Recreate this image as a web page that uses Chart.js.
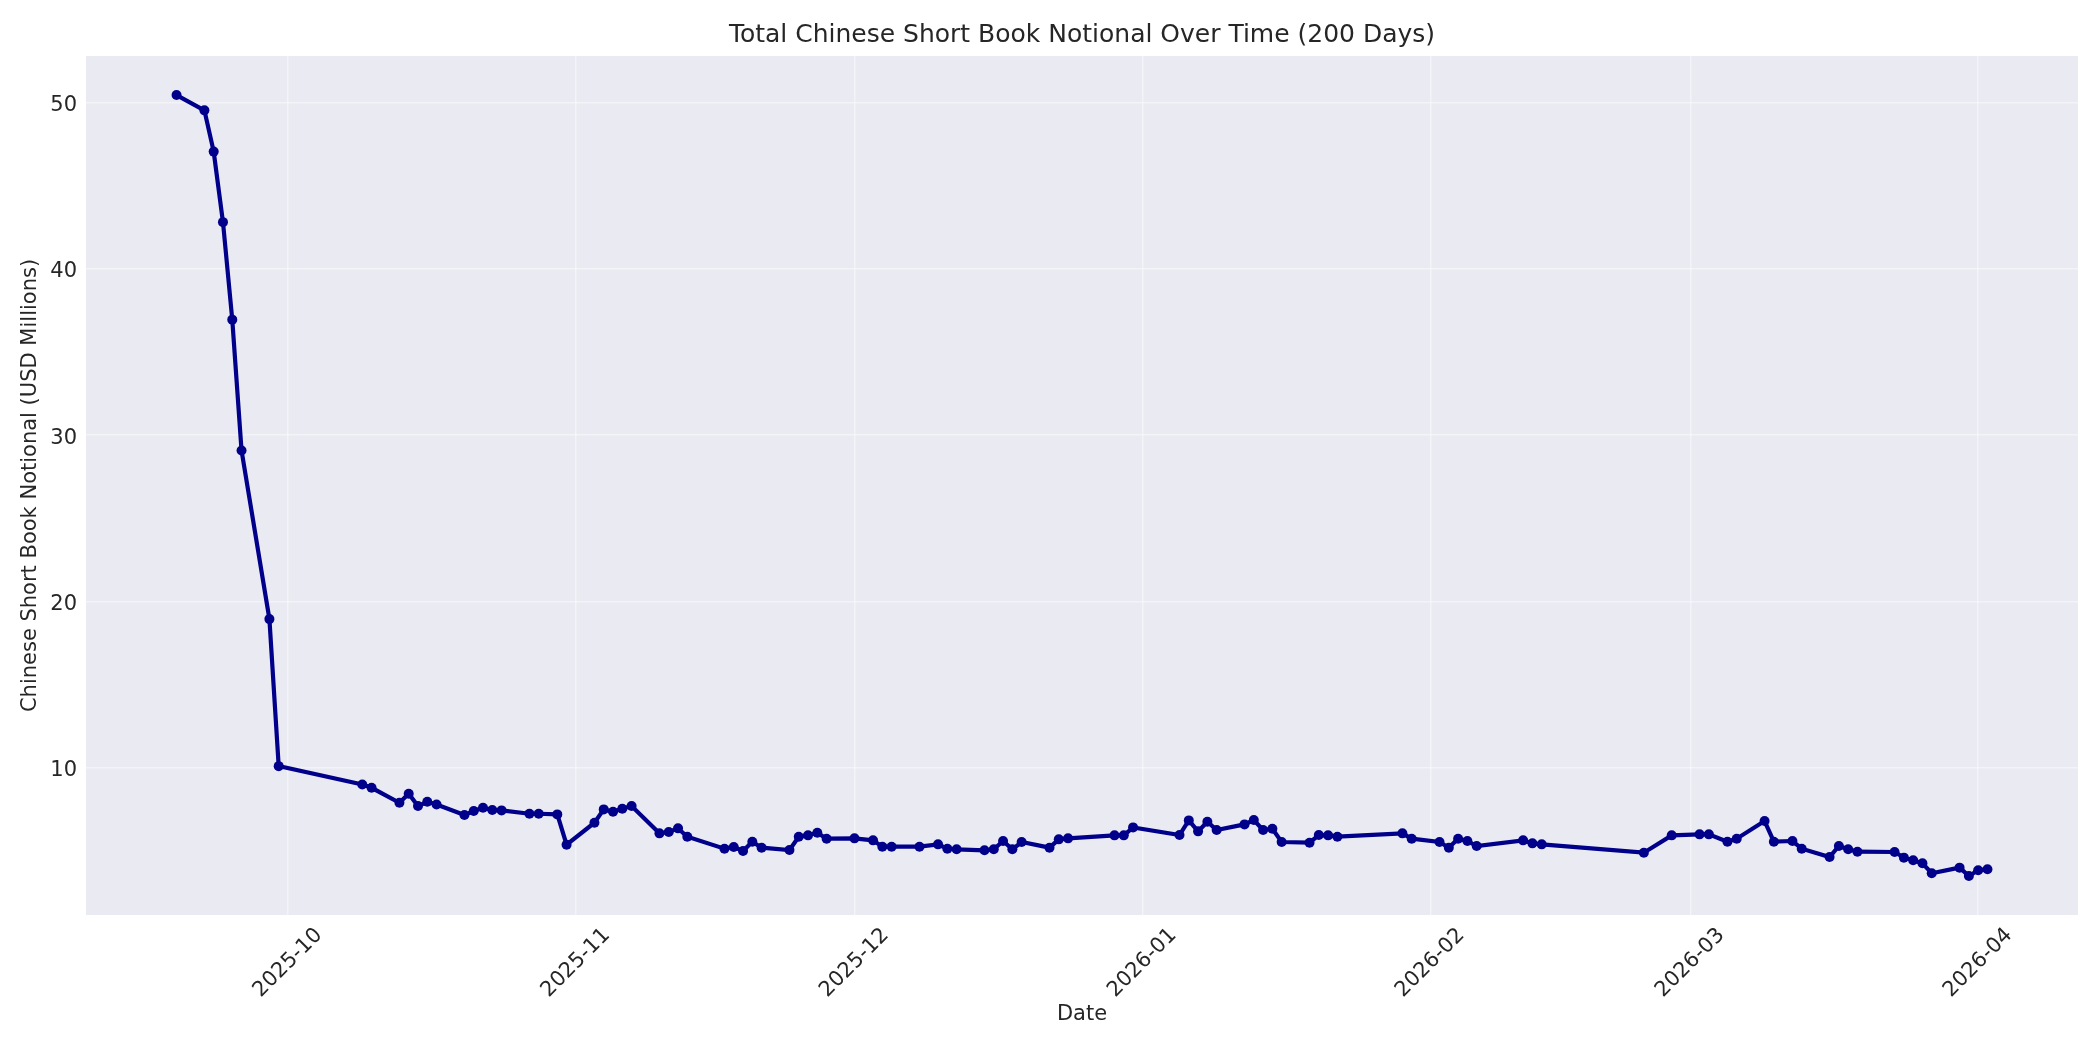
<!DOCTYPE html>
<html>
<head>
<meta charset="utf-8">
<script src="https://cdn.jsdelivr.net/npm/chart.js@4.4.1/dist/chart.umd.min.js"></script>
<style>
  html, body { margin: 0; padding: 0; background: #ffffff; }
  #wrap { width: 2100px; height: 1050px; }
</style>
</head>
<body>
<div id="wrap"><canvas id="c" width="2100" height="1050"></canvas></div>
<script>
const dates = [
  '2025-09-19','2025-09-22','2025-09-23','2025-09-24','2025-09-25','2025-09-26','2025-09-29','2025-09-30',
  '2025-10-09','2025-10-10','2025-10-13','2025-10-14','2025-10-15','2025-10-16','2025-10-17',
  '2025-10-20','2025-10-21','2025-10-22','2025-10-23','2025-10-24','2025-10-27','2025-10-28','2025-10-30','2025-10-31',
  '2025-11-03','2025-11-04','2025-11-05','2025-11-06','2025-11-07','2025-11-10','2025-11-11','2025-11-12','2025-11-13',
  '2025-11-17','2025-11-18','2025-11-19','2025-11-20','2025-11-21','2025-11-24','2025-11-25','2025-11-26','2025-11-27','2025-11-28',
  '2025-12-01','2025-12-03','2025-12-04','2025-12-05','2025-12-08','2025-12-10','2025-12-11','2025-12-12',
  '2025-12-15','2025-12-16','2025-12-17','2025-12-18','2025-12-19','2025-12-22','2025-12-23','2025-12-24',
  '2025-12-29','2025-12-30','2025-12-31',
  '2026-01-05','2026-01-06','2026-01-07','2026-01-08','2026-01-09','2026-01-12','2026-01-13','2026-01-14','2026-01-15','2026-01-16',
  '2026-01-19','2026-01-20','2026-01-21','2026-01-22','2026-01-29','2026-01-30',
  '2026-02-02','2026-02-03','2026-02-04','2026-02-05','2026-02-06','2026-02-11','2026-02-12','2026-02-13',
  '2026-02-24','2026-02-27',
  '2026-03-02','2026-03-03','2026-03-05','2026-03-06','2026-03-09','2026-03-10','2026-03-12','2026-03-13',
  '2026-03-16','2026-03-17','2026-03-18','2026-03-19','2026-03-23','2026-03-24','2026-03-25','2026-03-26','2026-03-27',
  '2026-03-30','2026-03-31','2026-04-01','2026-04-02'
];
const notional = [
  50.44, 49.52, 47.04, 42.8, 36.94, 29.07, 18.94, 10.1,
  9.0, 8.8, 7.9, 8.44, 7.7, 7.96, 7.8,
  7.16, 7.4, 7.6, 7.46, 7.44, 7.24, 7.24, 7.2, 5.38,
  6.7, 7.5, 7.36, 7.54, 7.7, 6.06, 6.14, 6.36, 5.86,
  5.14, 5.24, 5.0, 5.56, 5.2, 5.06, 5.86, 5.94, 6.1, 5.74,
  5.76, 5.64, 5.26, 5.26, 5.26, 5.4, 5.14, 5.1,
  5.04, 5.1, 5.6, 5.1, 5.54, 5.2, 5.7, 5.76,
  5.94, 5.94, 6.42,
  5.96, 6.84, 6.18, 6.76, 6.26, 6.6, 6.86, 6.26, 6.34, 5.54,
  5.5, 5.96, 5.94, 5.86, 6.06, 5.74,
  5.54, 5.2, 5.74, 5.6, 5.3, 5.64, 5.46, 5.4,
  4.9, 5.94,
  6.0, 6.0, 5.56, 5.74, 6.8, 5.56, 5.6, 5.14,
  4.64, 5.3, 5.1, 4.96, 4.94, 4.6, 4.44, 4.26, 3.66,
  4.0, 3.5, 3.84, 3.9
];
const xTickDates = ['2025-10-01','2025-11-01','2025-12-01','2026-01-01','2026-02-01','2026-03-01','2026-04-01'];
const xTickLabels = ['2025-10','2025-11','2025-12','2026-01','2026-02','2026-03','2026-04'];
const yTicks = [10, 20, 30, 40, 50];
const chartTitle = 'Total Chinese Short Book Notional Over Time (200 Days)';

const toDay = s => { const p = s.split('-').map(Number); return Date.UTC(p[0], p[1]-1, p[2]) / 86400000; };
const points = dates.map((d, i) => ({ x: toDay(d), y: notional[i] }));
const xs = points.map(p => p.x), ys = points.map(p => p.y);
const xMin0 = Math.min(...xs), xMax0 = Math.max(...xs);
const yMin0 = Math.min(...ys), yMax0 = Math.max(...ys);
const xPad = (xMax0 - xMin0) * 0.05, yPad = (yMax0 - yMin0) * 0.05;
const xTickVals = xTickDates.map(toDay);

const TEXT = '#262626';
const FONT = 'DejaVu Sans';

const bgPlugin = {
  id: 'bg',
  beforeDraw(chart) {
    const {ctx, chartArea: a} = chart;
    ctx.save();
    ctx.fillStyle = '#ffffff';
    ctx.fillRect(0, 0, chart.width, chart.height);
    ctx.fillStyle = '#EAEAF2';
    ctx.fillRect(a.left, a.top, a.right - a.left, a.bottom - a.top);
    ctx.restore();
  },
  afterDraw(chart) {
    const {ctx, chartArea: a} = chart;
    ctx.save();
    ctx.fillStyle = TEXT;
    ctx.font = '25px "' + FONT + '"';
    ctx.textAlign = 'center';
    ctx.textBaseline = 'middle';
    ctx.fillText(chartTitle, (a.left + a.right) / 2, 35);
    ctx.restore();
  }
};

new Chart(document.getElementById('c'), {
  type: 'line',
  data: {
    datasets: [{
      data: points,
      borderColor: '#00008B',
      backgroundColor: '#00008B',
      borderWidth: 4.2,
      pointRadius: 5,
      pointBorderWidth: 0,
      pointBackgroundColor: '#00008B',
      tension: 0,
      fill: false
    }]
  },
  plugins: [bgPlugin],
  options: {
    responsive: false,
    devicePixelRatio: 1,
    animation: false,
    layout: { padding: { left: 0, right: 22, top: 56, bottom: 0 } },
    plugins: {
      legend: { display: false },
      tooltip: { enabled: false },
      title: { display: false }
    },
    scales: {
      x: {
        type: 'linear',
        min: xMin0 - xPad,
        max: xMax0 + xPad,
        afterFit(scale) { scale.height = 135; },
        afterBuildTicks(scale) { scale.ticks = xTickVals.map(v => ({ value: v })); },
        border: { display: false },
        grid: { color: 'rgba(255,255,255,0.45)', lineWidth: 1.5, drawTicks: false },
        ticks: {
          autoSkip: false,
          maxRotation: 45,
          minRotation: 45,
          padding: 8,
          labelOffset: 31,
          color: TEXT,
          font: { family: FONT, size: 21 },
          callback(v) { const i = xTickVals.indexOf(v); return i >= 0 ? xTickLabels[i] : ''; }
        },
        title: {
          display: true,
          text: 'Date',
          color: TEXT,
          font: { family: FONT, size: 21 },
          padding: { top: 0, bottom: 23 }
        }
      },
      y: {
        type: 'linear',
        min: yMin0 - yPad,
        max: yMax0 + yPad,
        afterFit(scale) { scale.width = 86; },
        afterBuildTicks(scale) { scale.ticks = yTicks.map(v => ({ value: v })); },
        border: { display: false },
        grid: { color: 'rgba(255,255,255,0.45)', lineWidth: 1.5, drawTicks: false },
        ticks: {
          padding: 9,
          labelOffset: 3,
          color: TEXT,
          font: { family: FONT, size: 21 },
          callback(v) { return String(v); }
        },
        title: {
          display: true,
          text: 'Chinese Short Book Notional (USD Millions)',
          color: TEXT,
          font: { family: FONT, size: 21 },
          padding: { top: 18, bottom: 0 }
        }
      }
    }
  }
});
</script>
</body>
</html>
